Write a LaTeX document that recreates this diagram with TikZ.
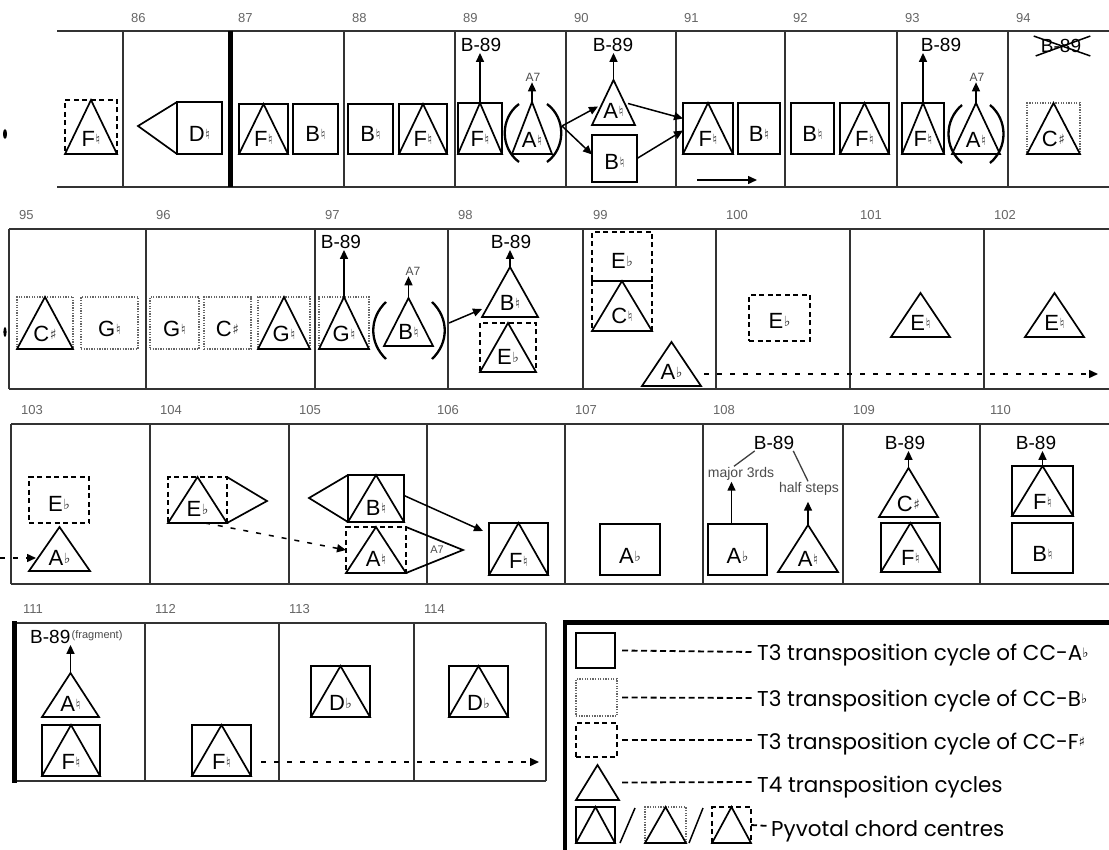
\documentclass[tikz,border=0pt]{standalone}
\usepackage{fontspec}
\setmainfont{Liberation Sans}
\newfontfamily\accfont{DejaVu Sans}
\newfontfamily\legfont{Poppins}
\usetikzlibrary{arrows.meta,calc}
\newcommand\Nat{\kern0.5pt{\accfont\fontsize{14}{14}\selectfont\color{black!80}\raisebox{2pt}{♮}}}
\newcommand\Shp{\kern0.5pt{\accfont\fontsize{14}{14}\selectfont\color{black!80}\raisebox{2pt}{♯}}}
\newcommand\Flt{\kern0.5pt{\accfont\fontsize{14}{14}\selectfont\color{black!80}\raisebox{2pt}{♭}}}
\newcommand\cbox[6]{\node[#1,inner sep=0pt,outer sep=0pt,anchor=north west,minimum width={#5-#3},minimum height={#6-#4}] (#2) at (#3,#4) {};}
\newcommand\tri[1]{\draw[shp,line join=miter] (#1.south west) -- (#1.north) -- (#1.south east) -- cycle;}
\newcommand\lab[3]{\node[lbl,anchor=base] at ([yshift=#2pt]#1.south) {#3};}
\newcommand\piv[7]{\cbox{#1}{#2}{#3}{#4}{#5}{#6}\tri{#2}\lab{#2}{7}{#7}}
\newcommand\sqr[7]{\cbox{#1}{#2}{#3}{#4}{#5}{#6}\lab{#2}{12}{#7}}
\newcommand\trg[6]{\cbox{}{#1}{#2}{#3}{#4}{#5}\tri{#1}\lab{#1}{6}{#6}}
\tikzset{
 frame/.style={line width=1.6pt, draw=black!80},
 shp/.style={line width=1.7pt},
 solidsq/.style={draw, shp},
 dotsq/.style={draw=black!60, line width=1.3pt, dash pattern=on 1.3pt off 1.3pt},
 dashsq/.style={draw, shp, dash pattern=on 5pt off 3.5pt},
 arr/.style={line width=1.5pt, -{Triangle[length=9pt,width=8pt]}},
 darr/.style={line width=1.5pt, dash pattern=on 5pt off 8pt, -{Triangle[length=9pt,width=8pt]}},
 barnum/.style={anchor=west, text=black!60, font=\fontsize{13}{13}\selectfont, inner sep=0pt},
 lbl/.style={inner sep=0pt, font=\fontsize{22}{22}\selectfont},
 bref/.style={inner sep=1pt, font=\fontsize{19}{19}\selectfont},
 small/.style={inner sep=1pt, text=black!70, font=\fontsize{12}{12}\selectfont},
 par/.style={line width=2.3pt},
 ldash/.style={line width=1.8pt, dash pattern=on 6pt off 3.5pt},
 legtxt/.style={anchor=base west, inner sep=0pt, font=\legfont\fontsize{21.5}{21.5}\selectfont},
}
\begin{document}
\begin{tikzpicture}[x=1pt,y=-1pt]
\useasboundingbox (0,0) rectangle (1109,850);
\fill[white] (0,0) rectangle (1109,850);
% ---------------- Row 1 ----------------
\draw[frame] (57,31) -- (1109,31);
\draw[frame] (57,187) -- (1109,187);
\foreach \x in {123,344,455,566,676,785,897,1008} \draw[frame] (\x,31) -- (\x,187);
\draw[line width=5pt] (230,31) -- (230,187);
\foreach \x/\n in {123/86,230/87,344/88,455/89,566/90,676/91,785/92,897/93,1008/94}
  \node[barnum] (n\n) at (\x+8,18) {\n};
\fill (5,134) ellipse (2pt and 5pt);
\piv{dashsq}{p85}{65}{100}{117}{154}{F\Nat}
\sqr{solidsq}{s86}{177}{102}{222}{154}{D\Nat}
\coordinate (c86) at (138,126);
\draw[shp,line join=miter] (s86.north west) -- (c86) -- (s86.south west);
\piv{solidsq}{p87}{239}{104}{288}{154}{F\Nat}
\sqr{solidsq}{s87}{293}{104}{338}{154}{B\Nat}
\sqr{solidsq}{s88}{348}{104}{393}{154}{B\Nat}
\piv{solidsq}{p88}{399}{104}{447}{154}{F\Nat}
\piv{solidsq}{p89}{458}{103}{502}{154}{F\Nat}
\node[bref] (b89) at (481,45) {B-89};
\draw[arr] (p89.north) -- (p89.north |- b89.south);
\trg{t89}{512}{102}{552}{154}{A\Nat}
\node[small] (a89) at (533,77) {A7};
\draw[arr] (t89.north) -- (t89.north |- a89.south);
\draw[par] (519,104) .. controls (500,118) and (500,148) .. (519,162);
\draw[par] (547,104) .. controls (566,118) and (566,148) .. (547,162);
\coordinate (rp89) at (562,126);
\trg{t90}{592}{80}{635}{125}{A\Nat}
\node[bref] (b90) at (613,45) {B-89};
\draw[arr] (t90.north) -- (t90.north |- b90.south);
\sqr{solidsq}{s90}{592}{135}{637}{182}{B\Nat}
\draw[arr] (rp89) -- ([xshift=6pt,yshift=-4pt]t90.west);
\draw[arr] (rp89) -- ([yshift=4pt]s90.west);
\piv{solidsq}{p91}{683}{103}{733}{154}{F\Nat}
\sqr{solidsq}{s91}{738}{103}{780}{154}{B\Nat}
\draw[arr] ([xshift=-7pt,yshift=-1pt]t90.east) -- ([yshift=10pt]p91.west);
\draw[arr] (s90.east) -- ([yshift=-2pt]p91.west);
\coordinate (ar1) at (697,180);
\coordinate (ar2) at (757,180);
\draw[arr] (ar1) -- (ar2);
\sqr{solidsq}{s92}{791}{103}{834}{154}{B\Nat}
\piv{solidsq}{p92}{840}{103}{889}{154}{F\Nat}
\piv{solidsq}{p93}{902}{103}{944}{154}{F\Nat}
\node[bref] (b93) at (941,45) {B-89};
\draw[arr] (p93.north) -- (p93.north |- b93.south);
\trg{t93}{952}{103}{1000}{154}{A\Nat}
\node[small] (a93) at (977,77) {A7};
\draw[arr] (t93.north) -- (t93.north |- a93.south);
\draw[par] (962,105) .. controls (944,120) and (944,148) .. (962,163);
\draw[par] (990,105) .. controls (1008,120) and (1008,148) .. (990,163);
\node[bref] (b94) at (1061,46) {B-89};
\draw[line width=1.5pt] ($(b94.north west)+(-6,-2)$) -- ($(b94.south east)+(8,2)$);
\draw[line width=1.5pt] ($(b94.south west)+(-4,2)$) -- ($(b94.north east)+(8,-2)$);
\piv{dotsq}{p94}{1027}{103}{1080}{154}{C\Shp}
% ---------------- Row 2 ----------------
\draw[frame] (9,229) -- (1109,229);
\draw[frame] (9,389) -- (1109,389);
\foreach \x in {9,146,315,448,583,716,850,984} \draw[frame] (\x,229) -- (\x,389);
\foreach \x/\n in {9/95,146/96,315/97,448/98,583/99,716/100,850/101,984/102}
  \node[barnum] (n\n) at (\x+10,215) {\n};
\fill (5,332) ellipse (1.6pt and 5pt);
\piv{dotsq}{p95}{17}{297}{73}{349}{C\Shp}
\sqr{dotsq}{s95}{81}{297}{138}{349}{G\Nat}
\sqr{dotsq}{s96a}{150}{297}{199}{349}{G\Nat}
\sqr{dotsq}{s96b}{204}{297}{251}{349}{C\Shp}
\piv{dotsq}{p96}{258}{297}{310}{349}{G\Nat}
\piv{dotsq}{p97}{319}{297}{369}{349}{G\Nat}
\node[bref] (b97) at (341,242) {B-89};
\draw[arr] (p97.north) -- (p97.north |- b97.south);
\trg{t97}{384}{298}{433}{346}{B\Nat}
\node[small] (a97) at (413,271) {A7};
\draw[arr] (t97.north) -- (t97.north |- a97.south);
\draw[par] (386,302) .. controls (369,318) and (369,343) .. (386,359);
\draw[par] (432,302) .. controls (449,318) and (449,343) .. (432,359);
\coordinate (rp97) at (449,323);
\trg{t98}{482}{267}{538}{317}{B\Nat}
\node[bref] (b98) at (511,242) {B-89};
\draw[arr] (t98.north) -- (t98.north |- b98.south);
\draw[arr] (rp97) -- ([yshift=8pt]t98.south west);
\piv{dashsq}{p98}{480}{323}{536}{372}{E\Flt}
\sqr{dashsq}{s99}{592}{232}{652}{281}{E\Flt}
\piv{dashsq}{p99}{592}{281}{652}{331}{C\Nat}
\trg{t99}{642}{342}{701}{386}{A\Flt}
\coordinate (e99) at (1098,374);
\draw[darr] ($(t99.south east)+(3,-12)$) -- (e99);
\sqr{dashsq}{s100}{749}{295}{810}{341}{E\Flt}
\trg{t101}{891}{293}{950}{337}{E\Nat}
\trg{t102}{1025}{293}{1084}{337}{E\Nat}
% ---------------- Row 3 ----------------
\draw[frame] (11,424) -- (1109,424);
\draw[frame] (11,584) -- (1109,584);
\foreach \x in {11,150,289,427,565,703,843,980} \draw[frame] (\x,424) -- (\x,584);
\foreach \x/\n in {11/103,150/104,289/105,427/106,565/107,703/108,843/109,980/110}
  \node[barnum] (n\n) at (\x+10,410) {\n};
\sqr{dashsq}{s103}{29}{477}{89}{523}{E\Flt}
\trg{t103}{29}{527}{90}{571}{A\Flt}
\coordinate (l103) at (0,558);
\draw[darr] (l103) -- ([xshift=7pt,yshift=13pt]t103.south west);
\piv{dashsq}{p104}{168}{477}{227}{523}{E\Flt}
\coordinate (c104) at (267,501);
\draw[shp,line join=miter] (p104.north east) -- (c104) -- (p104.south east);
\piv{solidsq}{p105a}{348}{475}{404}{522}{B\Nat}
\coordinate (c105a) at (309,498);
\draw[shp,line join=miter] (p105a.north west) -- (c105a) -- (p105a.south west);
\piv{dashsq}{p105b}{346}{527}{406}{573}{A\Nat}
\coordinate (c105b) at (463,550);
\draw[shp,line join=miter] (p105b.north east) -- (c105b) -- (p105b.south east);
\node[small, font=\fontsize{11}{11}\selectfont] (a105) at (437,550) {A7};
\draw[darr] ([xshift=37pt]p104.south west) -- (p105b.west);
\piv{solidsq}{p106}{489}{523}{548}{575}{F\Nat}
\draw[arr] ([yshift=3pt]p105a.east) -- ([xshift=-6pt,yshift=-8pt]p106.north west);
\sqr{solidsq}{s107}{600}{524}{660}{575}{A\Flt}
\sqr{solidsq}{s108}{708}{524}{767}{575}{A\Flt}
\node[small, font=\fontsize{14}{14}\selectfont] (m108) at (741,474) {major 3rds};
\draw[arr] ([xshift=-6pt]s108.north) -- ([xshift=-6pt]s108.north |- m108.south);
\trg{t108}{778}{525}{838}{572}{A\Nat}
\node[small, font=\fontsize{14}{14}\selectfont] (h108) at (809,489) {half steps};
\draw[arr] (t108.north) -- ([yshift=-5pt]t108.north |- h108.south);
\node[bref] (b108) at (774,443) {B-89};
\draw[line width=1.3pt, black!75] ([xshift=-7pt]m108.north) -- ([xshift=2pt]b108.south west);
\draw[line width=1.3pt, black!75] ([xshift=-2pt]b108.south east) -- ([xshift=-1pt]h108.north);
\trg{t109}{879}{468}{938}{517}{C\Shp}
\node[bref] (b109) at (905,443) {B-89};
\draw[arr] (t109.north) -- (t109.north |- b109.south);
\piv{solidsq}{p109}{881}{523}{940}{572}{F\Nat}
\piv{solidsq}{p110}{1012}{466}{1073}{516}{F\Nat}
\node[bref] (b110) at (1036,443) {B-89};
\draw[arr] (p110.north) -- (p110.north |- b110.south);
\sqr{solidsq}{s110}{1012}{523}{1073}{573}{B\Nat}
% ---------------- Row 4 ----------------
\draw[frame] (14,623) -- (546,623);
\draw[frame] (14,781) -- (546,781);
\foreach \x in {145,279,414,546} \draw[frame] (\x,623) -- (\x,781);
\draw[line width=5pt] (14,621) -- (14,783);
\foreach \x/\n in {13/111,145/112,279/113,414/114}
  \node[barnum] (n\n) at (\x+10,609) {\n};
\node[bref, anchor=west] (b111) at (29,637) {B-89};
\node[small, anchor=west, inner sep=0pt, font=\fontsize{11}{11}\selectfont] (f111) at ([yshift=1pt]b111.east) {(fragment)};
\trg{t111}{42}{673}{99}{717}{A\Nat}
\draw[arr] (t111.north) -- (t111.north |- b111.south);
\piv{solidsq}{p111}{42}{725}{100}{776}{F\Nat}
\piv{solidsq}{p112}{192}{725}{251}{776}{F\Nat}
\coordinate (e112) at (539,762);
\draw[darr] ([xshift=10pt,yshift=14pt]p112.south east) -- (e112);
\piv{solidsq}{p113}{311}{666}{370}{717}{D\Flt}
\piv{solidsq}{p114}{449}{666}{508}{717}{D\Flt}
% ---------------- Legend ----------------
\draw[line width=4.5pt] (565,850) -- (565,622.5) -- (1109,622.5);
\cbox{solidsq}{lsq1}{576}{633}{615}{668}
\node[legtxt] (lt1) at (757,660) {T3 transposition cycle of CC-A{\accfont\fontsize{13}{13}\selectfont\raisebox{3pt}{♭}}};
\draw[ldash] ([xshift=7pt]lsq1.east) -- (753,652);
\cbox{dotsq}{lsq2}{576}{679}{617}{716}
\node[legtxt] (lt2) at (757,706) {T3 transposition cycle of CC-B{\accfont\fontsize{13}{13}\selectfont\raisebox{3pt}{♭}}};
\draw[ldash] ([xshift=5pt]lsq2.east) -- (753,698);
\cbox{dashsq}{lsq3}{576}{723}{617}{757}
\node[legtxt] (lt3) at (757,749) {T3 transposition cycle of CC-F{\accfont\fontsize{13}{13}\selectfont\raisebox{3pt}{♯}}};
\draw[ldash] ([xshift=5pt]lsq3.east) -- (753,740);
\cbox{}{ltri}{576}{765}{619}{800}
\tri{ltri}
\node[legtxt] (lt4) at (757,792) {T4 transposition cycles};
\draw[ldash] ([xshift=3pt]ltri.east) -- (753,782);
\cbox{solidsq}{lp1}{576}{807}{615}{843}\tri{lp1}
\draw[line width=1.5pt] (620,843) -- (635,808);
\cbox{dotsq}{lp2}{645}{807}{686}{843}\tri{lp2}
\draw[line width=1.5pt] (689,843) -- (703,808);
\cbox{dashsq}{lp3}{712}{807}{751}{843}\tri{lp3}
\node[legtxt] (lt5) at (771,836) {Pyvotal chord centres};
\draw[ldash] (lp3.east) -- (769,826);
\end{tikzpicture}
\end{document}
